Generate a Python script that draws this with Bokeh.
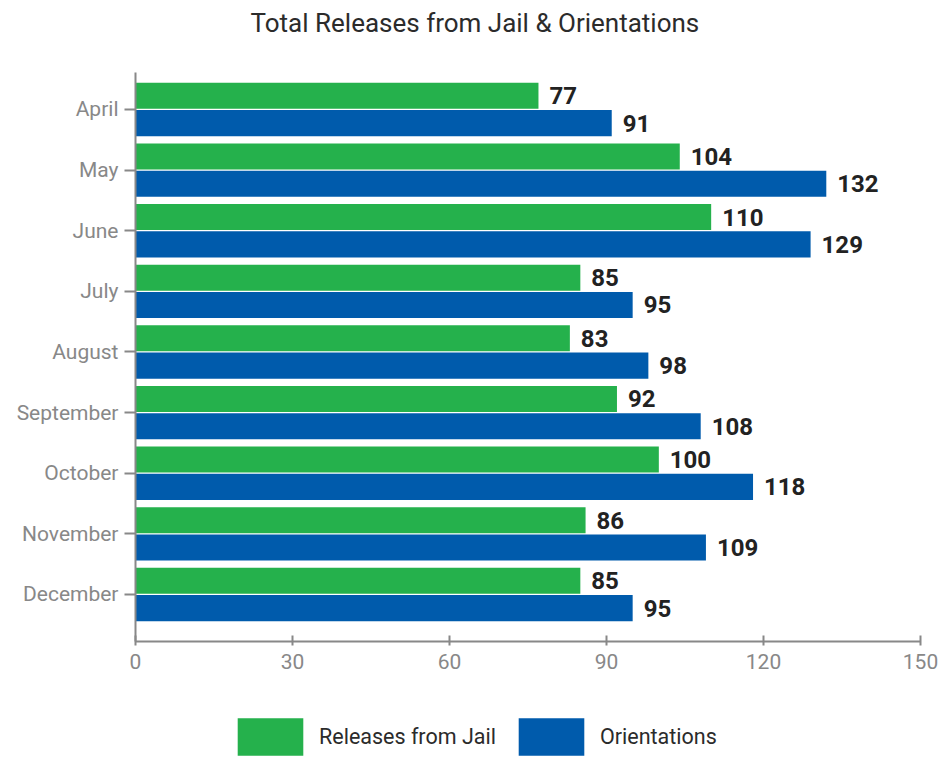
from bokeh.plotting import figure
from bokeh.layouts import column
from bokeh.models import ColumnDataSource, Range1d, FixedTicker, Legend, LegendItem, Title
from bokeh.transform import dodge
from bokeh.core.properties import value
from bokeh.embed import file_html
from bokeh.resources import INLINE

months = ["April", "May", "June", "July", "August", "September", "October", "November", "December"]
releases = [77, 104, 110, 85, 83, 92, 100, 86, 85]
orientations = [91, 132, 129, 95, 98, 108, 118, 109, 95]
x_ticks = [0, 30, 60, 90, 120, 150]
series_names = ["Releases from Jail", "Orientations"]
title_text = "Total Releases from Jail & Orientations"

GREEN = "#25b14c"
BLUE = "#005bac"
FONT = "Roboto"

n = len(months)
ypos = [n - 1 - i for i in range(n)]
src = ColumnDataSource(dict(y=ypos, rel=releases, ori=orientations,
                            rel_t=[str(v) for v in releases],
                            ori_t=[str(v) for v in orientations]))

p = figure(frame_width=785, frame_height=569, output_backend="svg", toolbar_location=None,
           x_range=Range1d(0, 150), y_range=Range1d(-0.776, n - 1 + 0.61),
           min_border_left=135, min_border_right=25, min_border_top=72,
           min_border_bottom=40, title=None)
p.outline_line_color = None
p.xgrid.visible = False
p.ygrid.visible = False

# spacer between title and frame
p.add_layout(Title(text=" ", text_font=FONT, text_font_size="20px", standoff=0), "above")
p.add_layout(Title(text=title_text, align="left", offset=115, vertical_align="top",
                   text_font=FONT, text_font_size="26px", text_font_style="normal",
                   text_color="#2b2b2b", standoff=14), "above")

h = 0.43
p.hbar(y=dodge("y", 0.225), right="rel", left=0, height=h, source=src,
       fill_color=GREEN, line_color=None)
p.hbar(y=dodge("y", -0.225), right="ori", left=0, height=h, source=src,
       fill_color=BLUE, line_color=None)

for col, tcol, off in (("rel", "rel_t", 0.225), ("ori", "ori_t", -0.225)):
    p.text(x=col, y=dodge("y", off), text=tcol, source=src, x_offset=11,
           text_baseline="middle", text_align="left",
           text_font=value(FONT), text_font_size="24px",
           text_font_style="bold", text_color="#222222")

ya = p.yaxis[0]
ya.ticker = FixedTicker(ticks=ypos)
ya.major_label_overrides = {y: m for y, m in zip(ypos, months)}
ya.axis_line_color = "#888888"
ya.axis_line_width = 2
ya.major_tick_line_color = "#888888"
ya.major_tick_line_width = 2
ya.major_tick_in = 0
ya.major_tick_out = 11
ya.minor_tick_line_color = None
ya.major_label_text_font = FONT
ya.major_label_text_font_size = "21px"
ya.major_label_text_color = "#888888"
ya.major_label_standoff = 6

xa = p.xaxis[0]
xa.ticker = FixedTicker(ticks=x_ticks)
xa.axis_line_color = "#888888"
xa.axis_line_width = 2
xa.major_tick_line_color = "#888888"
xa.major_tick_line_width = 2
xa.major_tick_in = 6
xa.major_tick_out = 4
xa.minor_tick_line_color = None
xa.major_label_text_font = FONT
xa.major_label_text_font_size = "21px"
xa.major_label_text_color = "#888888"
xa.major_label_standoff = 8

# legend strip below the chart (its frame is aligned with the chart's frame)
p2 = figure(width=945, height=76, output_backend="svg", toolbar_location=None,
            x_axis_location=None, y_axis_location=None,
            min_border_left=0, min_border_right=0, min_border_top=0, min_border_bottom=0)
p2.outline_line_color = None
p2.xgrid.visible = False
p2.ygrid.visible = False
g1 = p2.hbar(y="y", right="rel", left=0, height=h, source=src, fill_color=GREEN, line_color=None)
g2 = p2.hbar(y="y", right="ori", left=0, height=h, source=src, fill_color=BLUE, line_color=None)
g1.visible = False
g2.visible = False

legend = Legend(items=[LegendItem(label=series_names[0], renderers=[g1]),
                       LegendItem(label=series_names[1], renderers=[g2])],
                orientation="horizontal", location=(94, -3),
                glyph_width=82, glyph_height=47, label_standoff=8, spacing=14,
                label_text_font=FONT, label_text_font_size="21.5px",
                label_text_color="#2b2b2b", border_line_color=None,
                background_fill_alpha=0, padding=0, margin=0,
                inactive_fill_alpha=0)
p2.add_layout(legend, "center")

layout = column(p, p2, spacing=0)
open("out.html", "w").write(file_html(layout, INLINE))
